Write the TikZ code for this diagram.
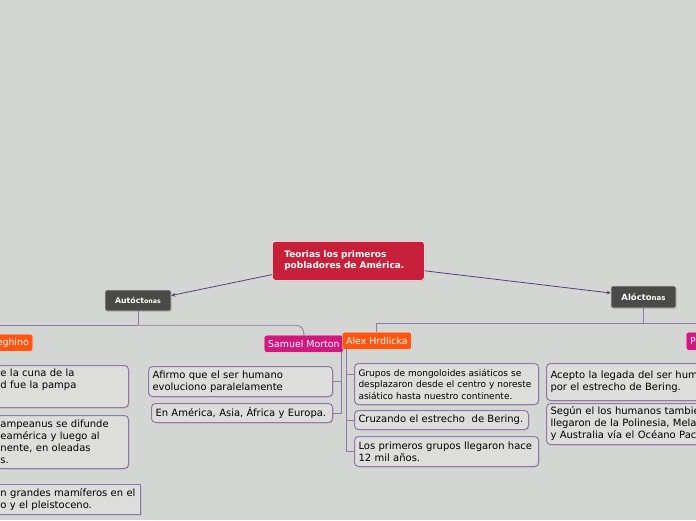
\documentclass[tikz,border=0pt]{standalone}
\usepackage{fontspec}
\setmainfont{DejaVu Sans}
\usetikzlibrary{shadows}

\definecolor{fondo}{HTML}{D4D6D3}
\definecolor{rojo}{HTML}{C8203A}
\definecolor{gris}{HTML}{4A4A48}
\definecolor{naranja}{HTML}{FF5511}
\definecolor{magenta}{HTML}{D0197F}
\definecolor{lila}{HTML}{9079A3}
\definecolor{morado}{HTML}{5E3C7C}
\definecolor{relleno}{HTML}{DDDEDC}

\begin{document}
\begin{tikzpicture}[x=1pt, y=-1pt, >=stealth,
    caja/.style={draw=lila, fill=relleno, line width=1pt, rounded corners=4pt,
      anchor=north west, align=left, inner xsep=4pt, inner ysep=0pt,
      font=\fontsize{10}{12}\selectfont,
      drop shadow={shadow xshift=1pt, shadow yshift=-1pt, opacity=.2}},
    autor/.style={text=white, draw=white, line width=.4pt, rounded corners=2pt,
      inner xsep=4pt, inner ysep=0pt, minimum height=17pt,
      font=\fontsize{9.4}{11}\selectfont,
      drop shadow={shadow xshift=.8pt, shadow yshift=-.8pt, opacity=.25}},
    tema/.style={fill=gris, text=white, draw=white!70!gris, line width=.6pt,
      rounded corners=2pt, inner sep=0pt,
      drop shadow={shadow xshift=1pt, shadow yshift=-1pt, opacity=.25}},
    rama/.style={draw=lila, line width=.8pt},
    flecha/.style={draw=morado, line width=.8pt}]

    % Fondo
    \fill[fondo] (0,0) rectangle (696,520);
    \useasboundingbox (0,0) rectangle (696,520);

    % Tema central
    \node[fill=rojo, draw=white, line width=.6pt, rounded corners=3pt, anchor=north west,
      minimum width=152, minimum height=39, text width=128, inner xsep=12pt, align=left,
      text=white, font=\fontsize{9}{11}\selectfont\bfseries,
      drop shadow={shadow xshift=1pt, shadow yshift=-1pt, opacity=.25}]
      (main) at (272,241) {Teorias los primeros\\pobladores de América.};

    % Dos ramas
    \node[tema, minimum width=66, minimum height=21] (autoc) at (138,300.5)
      {\bfseries\fontsize{7.8}{9}\selectfont Autóct\fontsize{6.3}{8}\selectfont onas};
    \node[tema, minimum width=65, minimum height=22] (aloct) at (643.5,297)
      {\bfseries\fontsize{8.5}{10}\selectfont Alócto\fontsize{7}{8}\selectfont nas};

    \draw[flecha, ->] ([yshift=6pt]main.south west) -- ([yshift=5pt]autoc.east);
    \draw[flecha, ->] ([yshift=-10pt]main.east) -- ([yshift=4pt]aloct.west);

    % Autores
    \node[autor, fill=naranja, anchor=north east, text width=70, align=right]
      (ameghino) at (33,334) {eghino};
    \node[autor, fill=magenta, anchor=north west] (morton) at (264,335) {Samuel Morton};
    \node[autor, fill=naranja, anchor=north west] (hrdlicka) at (342,332) {Alex Hrdlicka};
    \node[autor, fill=magenta, anchor=north west, text width=60, align=left, minimum height=18pt]
      (pa) at (686,332) {Pa};

    \coordinate (autJ) at ([yshift=-14pt]autoc.south);
    \draw[rama] (autoc.south) -- (autJ);
    \draw[rama] (autJ) -| (ameghino.north);
    \draw[rama, rounded corners=8pt] (autJ) -| (morton.north);

    \coordinate (alcJ) at ([yshift=-15pt]aloct.south);
    \draw[rama] (aloct.south) -- (alcJ);
    \draw[rama] (alcJ) -| (hrdlicka.north);
    \draw[rama] (alcJ) -| (pa.north);

    % Ameghino
    \node[caja, text width=124, minimum height=42] (amA) at (-4,365)
      {e la cuna de la\\d fue la pampa\\\strut};
    \node[caja, text width=124, minimum height=53] (amB) at (-4,415)
      {ampeanus se difunde\\eamérica y luego al\\nente, en oleadas\\s.};
    \node[caja, rounded corners=0pt, text width=136, minimum height=30] (amC) at (-4,484)
      {n grandes mamíferos en el\\o y el pleistoceno.};

    % Samuel Morton
    \node[caja, text width=176, minimum height=30] (morA) at (148,366)
      {Afirmo que el ser humano\\evoluciono paralelamente};
    \node[caja, text width=173, minimum height=19] (morB) at (151,403)
      {En América, Asia, África y Europa.};
    \draw[rama] ([xshift=-2pt]morton.south east) |- (morA.east);
    \draw[rama] ([xshift=-2pt]morton.south east) |- (morB.east);

    % Alex Hrdlicka
    \node[caja, text width=176, minimum height=41, font=\fontsize{9}{11.5}\selectfont] (hrA) at (354,363)
      {Grupos de mongoloides asiáticos se\\desplazaron desde el centro y noreste\\asiático hasta nuestro continente.};
    \node[caja, text width=166, minimum height=19] (hrB) at (354,410)
      {Cruzando el estrecho\ \ de Bering.};
    \node[caja, text width=176, minimum height=30] (hrC) at (354,436)
      {Los primeros grupos llegaron hace\\12 mil años.};
    \draw[rama] ([xshift=4pt]hrdlicka.south west) |- ([yshift=10pt]hrA.west);
    \draw[rama] ([xshift=4pt]hrdlicka.south west) |- (hrB.west);
    \draw[rama] ([xshift=4pt]hrdlicka.south west) |- (hrC.west);

    % Pa...
    \node[caja, text width=200, minimum height=37] (paA) at (546,363)
      {Acepto la legada del ser hum\\por el estrecho de Bering.};
    \node[caja, text width=200, minimum height=41] (paB) at (546,403)
      {Según el los humanos tambie\\llegaron de la Polinesia, Mela\\y Australia vía el Océano Pac};
\end{tikzpicture}
\end{document}
